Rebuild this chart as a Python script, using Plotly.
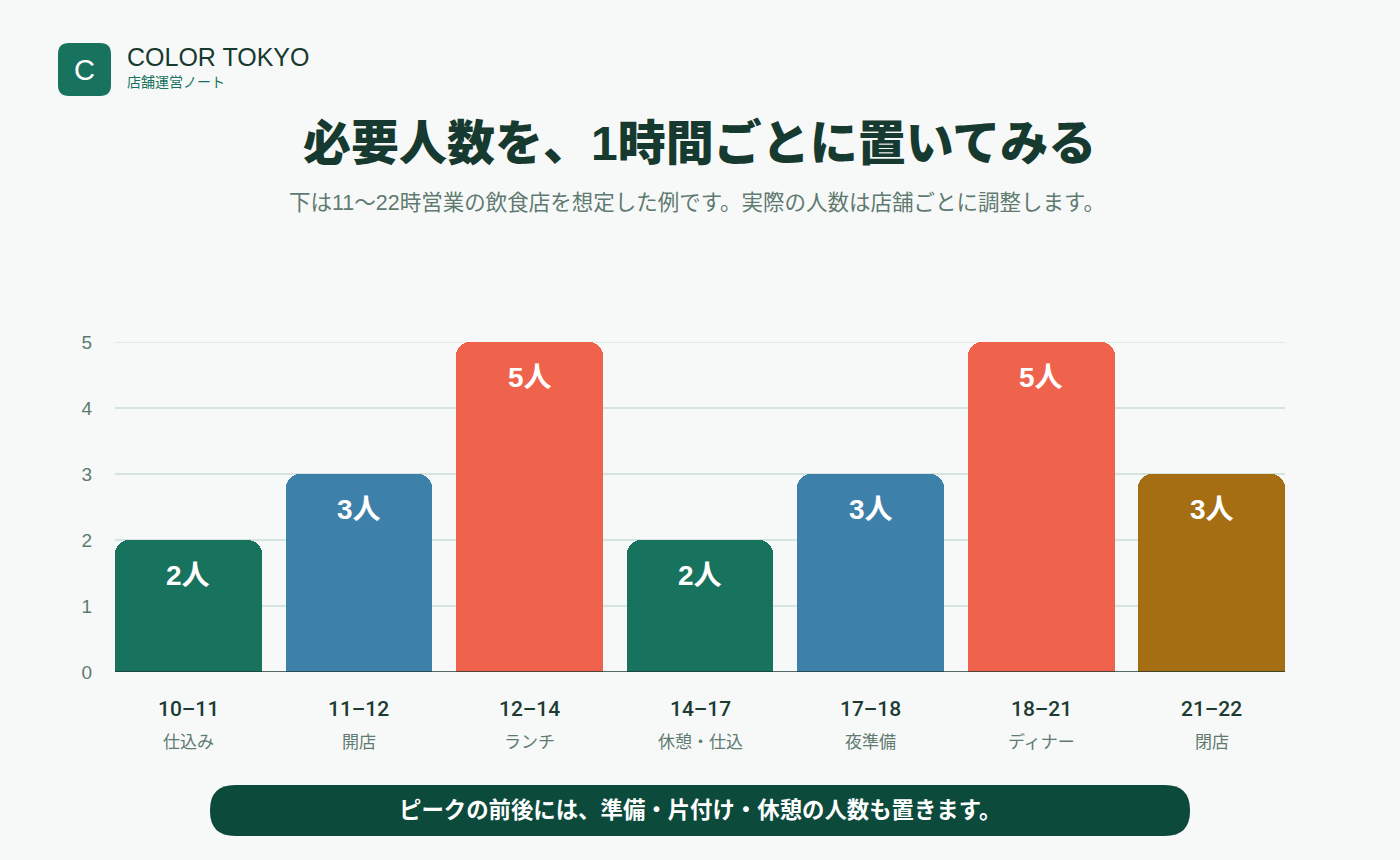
import plotly.graph_objects as go

# ---- data ----
time_slots = ["10–11", "11–12", "12–14", "14–17", "17–18", "18–21", "21–22"]
slot_tasks = ["仕込み", "開店", "ランチ", "休憩・仕込", "夜準備", "ディナー", "閉店"]
staff_needed = [2, 3, 5, 2, 3, 5, 3]
bar_colors = ["#17735d", "#3d80aa", "#ef624b", "#17735d", "#3d80aa", "#ef624b", "#a66e13"]
y_ticks = [0, 1, 2, 3, 4, 5]

W, H = 1400, 860
ML, MR, MT, MB = 115, 115, 342, 188
LAT = "Liberation Sans, Arial"
FONT = "Liberation Sans, Noto Sans CJK JP, sans-serif"
BG = "#f7f9f8"

def px_to_paper(x, y):
    return (x - ML) / (W - ML - MR), (H - MB - y) / (H - MT - MB)

def rrect(x0, y0, x1, y1, r):
    pts = [
        ("M", [(x0 + r, y0)]),
        ("L", [(x1 - r, y0)]),
        ("Q", [(x1, y0), (x1, y0 + r)]),
        ("L", [(x1, y1 - r)]),
        ("Q", [(x1, y1), (x1 - r, y1)]),
        ("L", [(x0 + r, y1)]),
        ("Q", [(x0, y1), (x0, y1 - r)]),
        ("L", [(x0, y0 + r)]),
        ("Q", [(x0, y0), (x0 + r, y0)]),
    ]
    s = ""
    for cmd, ps in pts:
        s += cmd + " " + " ".join("%.5f,%.5f" % px_to_paper(px, py) for px, py in ps) + " "
    return s + "Z"

xs = list(range(len(time_slots)))

fig = go.Figure()
fig.add_trace(go.Bar(
    x=xs, y=staff_needed, marker=dict(color=bar_colors, line=dict(width=0), cornerradius=14),
    width=0.862, hoverinfo="skip",
))

annotations = []
for i, v in enumerate(staff_needed):
    annotations.append(dict(x=i, y=v, xref="x", yref="y", text="<b>%d人</b>" % v, showarrow=False,
                            yshift=-35, font=dict(size=28, color="white", family=FONT)))
    annotations.append(dict(x=i, y=0, xref="x", yref="y", text=time_slots[i], showarrow=False,
                            yshift=-37, font=dict(size=21, color="#1d3b33",
                                                  family="Roboto, Liberation Sans, sans-serif", weight=500)))
    annotations.append(dict(x=i, y=0, xref="x", yref="y", text=slot_tasks[i], showarrow=False,
                            yshift=-70, font=dict(size=17, color="#5f7a70", family=FONT)))

def pp(x, y):
    return px_to_paper(x, y)

# title & subtitle
tx, ty = pp(699, 143)
annotations.append(dict(x=tx, y=ty, xref="paper", yref="paper", text="必要人数を、1時間ごとに置いてみる",
                        showarrow=False, font=dict(size=48, color="#173a30", family=FONT, weight=900),
                        xanchor="center", yanchor="middle"))
sx, sy = pp(697, 203)
annotations.append(dict(x=sx, y=sy, xref="paper", yref="paper", text="下は11〜22時営業の飲食店を想定した例です。実際の人数は店舗ごとに調整します。",
                        showarrow=False, font=dict(size=21.5, color="#5f7a70", family=FONT), xanchor="center", yanchor="middle"))
# logo
lx, ly = pp(84.5, 70)
annotations.append(dict(x=lx, y=ly, xref="paper", yref="paper", text="C", showarrow=False,
                        font=dict(size=29, color="white", family=LAT), xanchor="center", yanchor="middle"))
bx, by = pp(125, 57)
annotations.append(dict(x=bx, y=by, xref="paper", yref="paper", text="COLOR TOKYO", showarrow=False,
                        font=dict(size=25, color="#173a30", family=LAT), xanchor="left", yanchor="middle"))
nx, ny = pp(125, 82)
annotations.append(dict(x=nx, y=ny, xref="paper", yref="paper", text="店舗運営ノート", showarrow=False,
                        font=dict(size=14, color="#17735d", family=FONT), xanchor="left", yanchor="middle"))
# banner text
fx, fy = pp(700, 810)
annotations.append(dict(x=fx, y=fy, xref="paper", yref="paper", text="<b>ピークの前後には、準備・片付け・休憩の人数も置きます。</b>",
                        showarrow=False, font=dict(size=22.4, color="white", family=FONT), xanchor="center", yanchor="middle"))

shapes = [
    dict(type="path", xref="paper", yref="paper", path=rrect(58, 43, 111, 96, 11), fillcolor="#17735d", line=dict(width=0), layer="below"),
    dict(type="path", xref="paper", yref="paper", path=rrect(210, 785, 1190, 836, 25), fillcolor="#0c4a3c", line=dict(width=0), layer="below"),
    dict(type="line", xref="paper", yref="y", x0=0, x1=1, y0=max(y_ticks), y1=max(y_ticks),
         line=dict(color="#d6e4e0", width=1.5), layer="below"),
    dict(type="line", xref="paper", yref="y", x0=0, x1=1, y0=0, y1=0, line=dict(color="#1f3a33", width=1.5), layer="above"),
]

fig.update_layout(
    width=W, height=H, paper_bgcolor=BG, plot_bgcolor=BG,
    margin=dict(l=ML, r=MR, t=MT, b=MB, autoexpand=False),
    showlegend=False, font=dict(family=FONT),
    xaxis=dict(range=[-0.431, 6.431], showticklabels=False, showgrid=False, zeroline=False, fixedrange=True),
    yaxis=dict(range=[0, 5], tickvals=y_ticks, showgrid=True, gridcolor="#d6e4e0", gridwidth=1.5,
               zeroline=False, tickfont=dict(size=19, color="#5f7a70", family=LAT),
               ticklabelstandoff=22, fixedrange=True),
    annotations=annotations, shapes=shapes, bargap=0,
)

fig.write_html("out.html", config={"displayModeBar": False},
               post_script="document.body.style.margin='0';document.body.style.background='%s';" % BG)
